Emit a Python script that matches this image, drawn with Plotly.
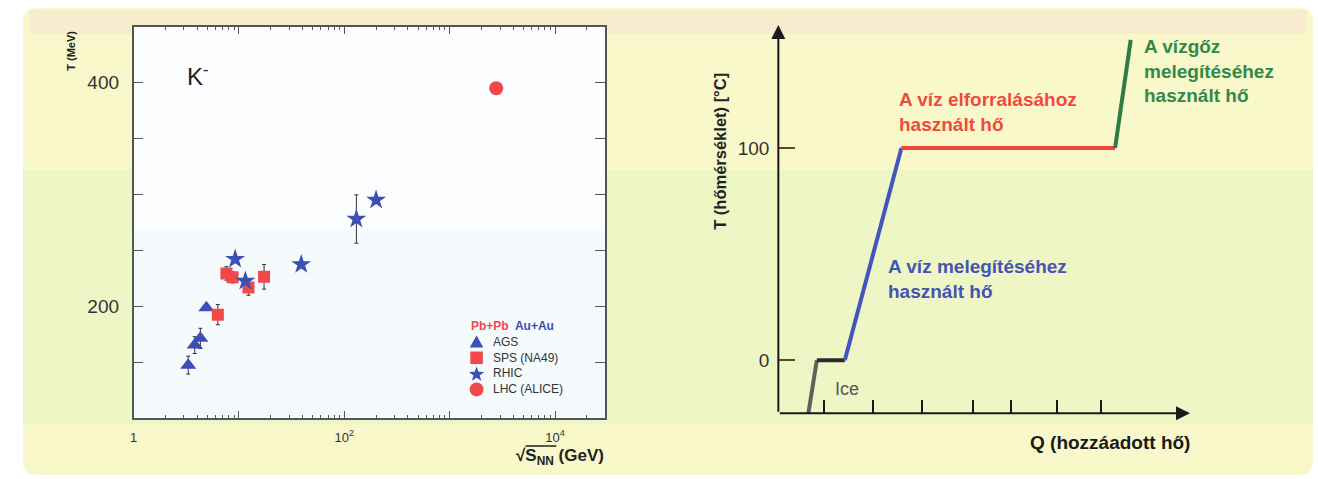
import math
import plotly.graph_objects as go

W, H = 1318, 479

# ---------------- left chart data (K- temperature vs sqrt(s_NN)) ----------------
ags_x = [3.3, 3.8, 4.3, 4.9]
ags_T = [147.5, 165.4, 171.4, 198.7]
ags_err = [8, 7.5, 9, 0]

sps_x = [6.3, 7.6, 8.7, 12.3, 17.3]
sps_T = [192.6, 229.4, 225.9, 216.9, 226.4]
sps_err = [9, 6, 5, 7, 11]

rhic_x = [9.2, 11.5, 39, 130, 200]
rhic_T = [242.2, 222.6, 237.5, 278, 295]
rhic_err = [0, 0, 0, 21.6, 2]

lhc_x = [2760]
lhc_T = [394.8]

legend_names = ["AGS", "SPS (NA49)", "RHIC", "LHC (ALICE)"]

x_major_vals = [1, 10, 100, 1000, 10000]
x_major_text = ["1", " ", "10<sup>2</sup>", " ", "10<sup>4</sup>"]
y_label_vals = [200, 400]
y_minor_vals = [150, 250, 300, 350]

# ---------------- right chart data (heating curve of water) ----------------
q_pts = [7.3, 9.35, 16.15, 29.9, 81.8, 85.6]
t_pts = [-25, 0, 0, 100, 100, 151]
seg_colors = ["#5f625c", "#2b2b2b", "#4455bb", "#f2463c", "#2f7a45"]
q_ticks = [11.2, 22.9, 34.8, 47.2, 56.6, 67.8, 78.4]
t_ticks = [0, 100]

FONT = "Liberation Sans, Arial, Helvetica, sans-serif"
BLUE = "#3b4fb4"
RED = "#f2484a"


def px(x):
    return x / W


def py(y):
    return (H - y) / H


fig = go.Figure()

err_style = dict(type="data", color="#333333", thickness=1, width=2)

fig.add_trace(go.Scatter(
    x=ags_x, y=ags_T, mode="markers", name=legend_names[0],
    marker=dict(symbol="triangle-up", size=14, color=BLUE),
    error_y=dict(array=ags_err, **err_style), xaxis="x", yaxis="y"))
fig.add_trace(go.Scatter(
    x=sps_x, y=sps_T, mode="markers", name=legend_names[1],
    marker=dict(symbol="square", size=12, color=RED),
    error_y=dict(array=sps_err, **err_style), xaxis="x", yaxis="y"))
fig.add_trace(go.Scatter(
    x=rhic_x, y=rhic_T, mode="markers", name=legend_names[2],
    marker=dict(symbol="star", size=15, color=BLUE),
    error_y=dict(array=rhic_err, **err_style), xaxis="x", yaxis="y"))
fig.add_trace(go.Scatter(
    x=lhc_x, y=lhc_T, mode="markers", name=legend_names[3],
    marker=dict(symbol="circle", size=14, color=RED), xaxis="x", yaxis="y"))

for i, c in enumerate(seg_colors):
    fig.add_trace(go.Scatter(
        x=q_pts[i:i + 2], y=t_pts[i:i + 2], mode="lines",
        line=dict(color=c, width=4), showlegend=False,
        xaxis="x2", yaxis="y2", hoverinfo="skip"))

minor_vals = [m * 10 ** d for d in range(0, 5) for m in range(2, 10)]

fig.update_layout(
    width=W, height=H, margin=dict(l=0, r=0, t=0, b=0),
    paper_bgcolor="white", plot_bgcolor="rgba(0,0,0,0)",
    font=dict(family=FONT, color="#333333", size=14),
    showlegend=False,
    xaxis=dict(
        type="log", domain=[px(130), px(603)], range=[0, 4.475],
        tickvals=x_major_vals, ticktext=x_major_text,
        ticks="inside", ticklen=8, tickcolor="#555555", tickwidth=1,
        minor=dict(tickvals=minor_vals, ticks="inside", ticklen=4,
                   tickcolor="#555555", tickwidth=1),
        showline=True, linecolor="#555555", linewidth=1.5, mirror="ticks",
        showgrid=False, zeroline=False, anchor="y", ticklabelstandoff=6,
        tickfont=dict(size=13, color="#333333")),
    yaxis=dict(
        domain=[py(418.3), py(26.5)], range=[100, 450],
        tickvals=y_label_vals,
        ticks="inside", ticklen=10, tickcolor="#555555", tickwidth=1,
        minor=dict(tickvals=y_minor_vals, ticks="inside", ticklen=10,
                   tickcolor="#555555", tickwidth=1),
        showline=True, linecolor="#555555", linewidth=1.5, mirror="ticks",
        showgrid=False, zeroline=False, anchor="x", ticklabelstandoff=9,
        tickfont=dict(size=19, color="#333333")),
    xaxis2=dict(
        domain=[px(776.7), px(1189.6)], range=[0, 100],
        tickvals=q_ticks, ticks="inside", ticklen=13, tickcolor="#1a1a1a",
        tickwidth=1.6, showticklabels=False, showline=False,
        showgrid=False, zeroline=False, anchor="y2"),
    yaxis2=dict(
        domain=[py(413.3), py(25)], range=[-25, 158],
        tickvals=t_ticks, ticks="inside", ticklen=17, tickcolor="#5a4a28",
        tickwidth=1.6, showline=False, showgrid=False, zeroline=False,
        anchor="x2", ticklabelstandoff=8,
        tickfont=dict(size=19, color="#333333")),
)

# background panel (scanned page look)
shapes = [
    dict(type="path", xref="paper", yref="paper", layer="below",
         path=("M {a},{t} L {b},{t} Q {r},{t} {r},{t2} L {r},{bt2} Q {r},{bt} {b},{bt} "
               "L {a},{bt} Q {l},{bt} {l},{bt2} L {l},{t2} Q {l},{t} {a},{t} Z").format(
             l=px(19), r=px(1313), a=px(33), b=px(1299),
             t=py(8), t2=py(22), bt=py(475), bt2=py(461)),
         fillcolor="#f9f8cb", line=dict(width=0)),
    dict(type="rect", xref="paper", yref="paper", layer="below",
         x0=px(26), x1=px(1306), y0=py(34), y1=py(9),
         fillcolor="rgba(250,215,210,0.40)", line=dict(width=0)),
    dict(type="rect", xref="paper", yref="paper", layer="below",
         x0=px(19), x1=px(1313), y0=py(425), y1=py(170),
         fillcolor="rgba(215,242,185,0.28)", line=dict(width=0)),
    dict(type="rect", xref="paper", yref="paper", layer="below",
         x0=px(130), x1=px(603), y0=py(418.3), y1=py(26.5),
         fillcolor="#fbfdfe", line=dict(width=0)),
    dict(type="rect", xref="paper", yref="paper", layer="below",
         x0=px(130), x1=px(603), y0=py(418.3), y1=py(230),
         fillcolor="rgba(225,240,250,0.22)", line=dict(width=0)),
    # overline of the sqrt sign in the x title
    dict(type="line", xref="paper", yref="paper",
         x0=px(523), x1=px(554), y0=py(446), y1=py(446),
         line=dict(color="#222222", width=1.5)),
]

# legend keys of the left chart (drawn as small shapes next to the names)
kx = 474
ky = [342, 357.8, 373.6, 389.4]


def poly(points):
    return "M " + " L ".join("%.5f,%.5f" % (px(a), py(b)) for a, b in points) + " Z"


shapes.append(dict(type="path", xref="paper", yref="paper",
                   path=poly([(kx - 6.8, ky[0] + 5.5), (kx + 6.8, ky[0] + 5.5),
                              (kx, ky[0] - 6.5)]),
                   fillcolor=BLUE, line=dict(width=0)))
shapes.append(dict(type="rect", xref="paper", yref="paper",
                   x0=px(kx - 6.3), x1=px(kx + 6.3),
                   y0=py(ky[1] + 6.3), y1=py(ky[1] - 6.3),
                   fillcolor=RED, line=dict(width=0)))
star_pts = []
for j in range(10):
    r = 8.0 if j % 2 == 0 else 3.3
    a = -math.pi / 2 + j * math.pi / 5
    star_pts.append((kx + r * math.cos(a), ky[2] + 0.8 + r * math.sin(a)))
shapes.append(dict(type="path", xref="paper", yref="paper", path=poly(star_pts),
                   fillcolor=BLUE, line=dict(width=0)))
shapes.append(dict(type="circle", xref="paper", yref="paper",
                   x0=px(kx - 7), x1=px(kx + 7),
                   y0=py(ky[3] + 7), y1=py(ky[3] - 7),
                   fillcolor=RED, line=dict(width=0)))
fig.update_layout(shapes=shapes)

ann = []


def label(text, x, y, size=14, color="#333333", bold=False, xanchor="left",
          yanchor="middle", angle=0, family=FONT):
    t = "<b>" + text + "</b>" if bold else text
    ann.append(dict(text=t, x=px(x), y=py(y), xref="paper", yref="paper",
                    showarrow=False, xanchor=xanchor, yanchor=yanchor,
                    textangle=angle, borderpad=0, align="left",
                    font=dict(size=size, color=color, family=family)))


# left chart texts
label("T (MeV)", 67, 51, size=11, color="#222222", bold=True,
      xanchor="center", angle=-90)
label("K<sup>-</sup>", 183, 75, size=24, color="#222222")
label("√S<sub>NN</sub> (GeV)", 603, 457, size=17, color="#222222", bold=True,
      xanchor="right")

# legend texts
label("<span style='color:#f2484a'>Pb+Pb</span>  "
      "<span style='color:#3b4fb4'>Au+Au</span>", 467, 326, size=12, bold=True)
label("<br>".join(legend_names), 489, 365.5, size=12, color="#333333")

# right chart texts
label("T (hőmérséklet) [°C]", 718, 151, size=16.5, color="#222222", bold=True,
      xanchor="center", angle=-90)
label("A víz elforralásához<br>használt hő", 897, 112, size=19,
      color="#f04a3c", bold=True)
label("A víz melegítéséhez<br>használt hő", 886, 279, size=19,
      color="#4553b5", bold=True)
label("A vízgőz<br>melegítéséhez<br>használt hő", 1142, 71, size=19,
      color="#2f8a4c", bold=True)
label("Ice", 833, 389, size=18, color="#555555")
label("Q (hozzáadott hő)", 1191, 442, size=19, color="#1a1a1a", bold=True,
      xanchor="right")

# axis arrows of the heating curve
ann.append(dict(x=100, y=-25, ax=0, ay=-25, xref="x2", yref="y2",
                axref="x2", ayref="y2", text="", showarrow=True,
                arrowhead=2, arrowsize=1.4, arrowwidth=2, arrowcolor="#1a1a1a"))
ann.append(dict(x=0, y=158, ax=0, ay=-25, xref="x2", yref="y2",
                axref="x2", ayref="y2", text="", showarrow=True,
                arrowhead=2, arrowsize=1.4, arrowwidth=2, arrowcolor="#1a1a1a"))

fig.update_layout(annotations=ann)

fig.write_html("out.html",
               config={"displayModeBar": False},
               post_script="document.body.style.margin='0';"
                           "document.body.style.overflow='hidden';")
